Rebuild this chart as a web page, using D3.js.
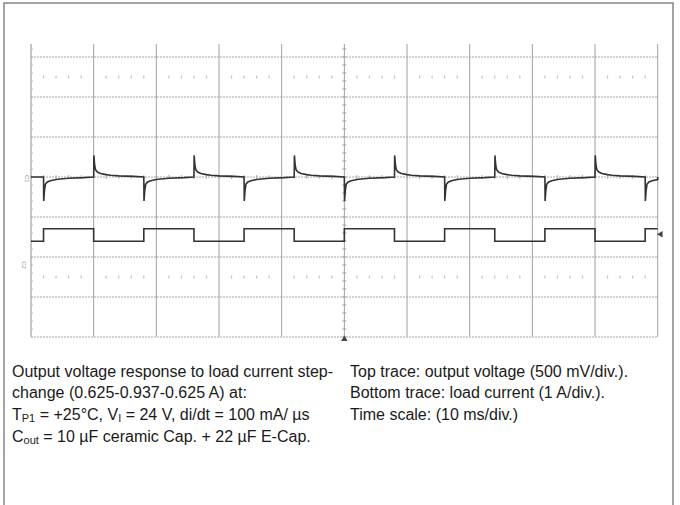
<!DOCTYPE html>
<html><head><meta charset="utf-8">
<script src="https://cdn.jsdelivr.net/npm/d3@7"></script>
<style>html,body{margin:0;padding:0;background:#fff;}svg{display:block;}</style>
</head><body>
<svg id="c" width="680" height="505"></svg>
<script>
// ---- data ----
const timeDomain = [0, 100];                 // ms, 10 ms/div
const stepTimes = [2, 10, 18, 26, 34, 42, 50, 58, 66, 74, 82, 90, 98]; // load current edges (ms)
const loadLevels = [0.625, 0.937];           // A, low / high
const recoveryTimes = [0, 0.03, 0.15, 0.3, 0.6, 1.1, 2, 2.7, 4, 6.4, 8];          // ms after edge
const overshootMv = [0, 270, 150, 90, 62, 44, 30, 22, 14, 8, 0];                    // load release
const undershootMv = [0, -300, -170, -90, -62, -46, -32, -25, -15, -8, 0];          // load apply
const voltsPerDiv = 500;   // mV/div
const ampsPerDiv = 1;      // A/div
const ch2GroundDiv = -2.23;
const captionLeft = [
  [["Output voltage response to load current step-"]],
  [["change (0.625-0.937-0.625 A) at:"]],
  [["T"], ["P1", "sub"], [" = +25°C, V"], ["I", "sub"], [" = 24 V, di/dt = 100 mA/ µs"]],
  [["C"], ["out", "sub"], [" = 10 µF ceramic Cap. + 22 µF E-Cap."]]
];
const captionRight = [
  "Top trace: output voltage (500 mV/div.).",
  "Bottom trace: load current (1 A/div.).",
  "Time scale: (10 ms/div.)"
];

// ---- build traces from data ----
const currentPts = [];
let lvl = 0;
currentPts.push([timeDomain[0], loadLevels[lvl]]);
stepTimes.forEach(t => {
  currentPts.push([t, loadLevels[lvl]]);
  lvl = 1 - lvl;
  currentPts.push([t, loadLevels[lvl]]);
});
currentPts.push([timeDomain[1], loadLevels[lvl]]);

const voltPts = [[timeDomain[0], 0]];
let hi = false;
stepTimes.forEach((t, i) => {
  hi = !hi;
  const shape = hi ? undershootMv : overshootMv;
  const next = i + 1 < stepTimes.length ? stepTimes[i + 1] : timeDomain[1];
  recoveryTimes.forEach((dt, k) => {
    if (t + dt <= next) voltPts.push([t + dt, shape[k]]);
  });
});
voltPts.push([timeDomain[1], 0]);

// ---- scales ----
const svg = d3.select("#c");
const x = d3.scaleLinear().domain(timeDomain).range([31, 657.7]);
const y = d3.scaleLinear().domain([-4, 4]).range([337, 17]); // divisions
const gridTop = 44, gridBottom = 336.6;
const yV = mv => y(mv / voltsPerDiv);
const yI = a => y(ch2GroundDiv + a / ampsPerDiv);

// border
svg.append("rect").attr("x", 4).attr("y", 3).attr("width", 669).attr("height", 520)
  .attr("fill", "none").attr("stroke", "#858585").attr("stroke-width", 1.5);

const g = svg.append("g");
// horizontal grid
d3.range(-4, 4).forEach(d => {
  if (y(d) < gridTop) return;
  g.append("line").attr("x1", x(0)).attr("x2", x(100)).attr("y1", y(d)).attr("y2", y(d))
    .attr("stroke", "#a8a8a8").attr("stroke-width", 1).attr("stroke-dasharray", "2,1");
});
// vertical grid
d3.range(0, 101, 10).forEach(t => {
  g.append("line").attr("x1", x(t)).attr("x2", x(t)).attr("y1", gridTop).attr("y2", gridBottom)
    .attr("stroke", t === 0 ? "#8c8c8c" : "#a0a0a0").attr("stroke-width", 1);
});
// minor marks rows
[2.5, -2.5].forEach(d => {
  d3.range(2, 100, 2).forEach(t => {
    if (t % 10 === 0) return;
    g.append("line").attr("x1", x(t)).attr("x2", x(t)).attr("y1", y(d) - 1.5).attr("y2", y(d) + 1.5)
      .attr("stroke", "#c4c4c4").attr("stroke-width", 1.2);
  });
});
// center axis ticks
d3.range(-4, 3.3, 0.2).forEach(d => {
  const yy = y(d);
  if (yy < gridTop) return;
  g.append("line").attr("x1", x(50) - 2).attr("x2", x(50) + 2).attr("y1", yy).attr("y2", yy)
    .attr("stroke", "#a0a0a0").attr("stroke-width", 1);
  g.append("line").attr("x1", x(0)).attr("x2", x(0) + 2).attr("y1", yy).attr("y2", yy)
    .attr("stroke", "#b8b8b8").attr("stroke-width", 1);
});
d3.range(0, 100.1, 2).forEach(t => {
  g.append("line").attr("x1", x(t)).attr("x2", x(t)).attr("y1", y(0) - 2).attr("y2", y(0) + 2)
    .attr("stroke", "#b0b0b0").attr("stroke-width", 1);
});

// traces
const line = d3.line();
g.append("path").attr("d", line(currentPts.map(p => [x(p[0]), yI(p[1])])))
  .attr("fill", "none").attr("stroke", "#333").attr("stroke-width", 1.6);
g.append("path").attr("d", line(voltPts.map(p => [x(p[0]), yV(p[1])])))
  .attr("fill", "none").attr("stroke", "#333").attr("stroke-width", 1.6);

// markers
svg.append("path").attr("d", d3.symbol(d3.symbolTriangle, 18)())
  .attr("transform", `translate(${x(50)},${gridBottom + 2.5})`).attr("fill", "#444");
svg.append("path").attr("d", d3.symbol(d3.symbolTriangle, 18)())
  .attr("transform", `translate(${x(100) + 3},${yI(0.8)}) rotate(-90)`).attr("fill", "#444");
svg.append("text").attr("transform", `translate(${x(0) - 6},${yV(0) - 2}) rotate(90)`)
  .attr("font-family", "Liberation Sans, Arial, sans-serif").attr("font-size", 6).attr("fill", "#999").text("C1");
svg.append("text").attr("transform", `translate(${x(0) - 9},${yI(0) - 5}) rotate(90)`)
  .attr("font-family", "Liberation Sans, Arial, sans-serif").attr("font-size", 6).attr("fill", "#999").text("C2");

// captions
const font = "Liberation Sans, Arial, sans-serif";
const lineH = 21.8, base0 = 376.5;
captionLeft.forEach((parts, i) => {
  const t = svg.append("text").attr("x", 12).attr("y", base0 + i * lineH)
    .attr("font-family", font).attr("font-size", 16).attr("fill", "#1a1a1a");
  parts.forEach((p, k) => {
    const s = t.append("tspan").text(p[0]);
    if (p[1] === "sub") s.attr("font-size", 11).attr("dy", 2);
    else if (k > 0 && parts[k - 1][1] === "sub") s.attr("dy", -2);
  });
});
captionRight.forEach((s, i) => {
  svg.append("text").attr("x", 350).attr("y", base0 + i * lineH)
    .attr("font-family", font).attr("font-size", 16).attr("fill", "#1a1a1a").text(s);
});
</script>
</body></html>
